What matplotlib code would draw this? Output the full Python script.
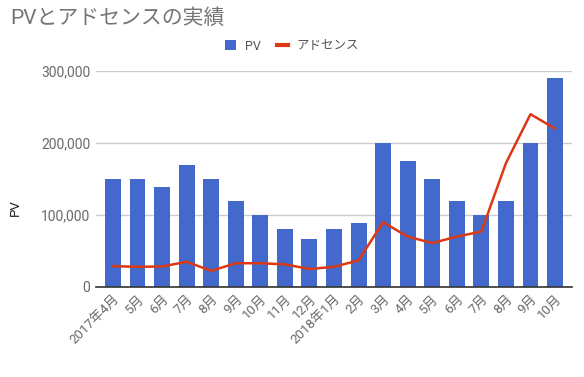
import matplotlib
matplotlib.use("Agg")
import matplotlib.pyplot as plt
from matplotlib.lines import Line2D
from matplotlib.patches import Patch
from matplotlib.ticker import FuncFormatter

plt.rcParams['font.family'] = ['Roboto', 'Noto Sans CJK JP', 'DejaVu Sans']

months = ["2017年4月", "5月", "6月", "7月", "8月", "9月", "10月", "11月", "12月",
          "2018年1月", "2月", "3月", "4月", "5月", "6月", "7月", "8月", "9月", "10月"]
pv = [150000, 150000, 139000, 170000, 150000, 120000, 100000, 80000, 66000,
      80000, 89000, 200000, 175000, 150000, 120000, 100000, 120000, 200000, 290000]
adsense = [29000, 28000, 28500, 35000, 22500, 33000, 33000, 31500, 25000,
           28000, 37000, 90000, 70000, 61000, 70000, 77000, 172000, 240000, 220000]
yticks = [0, 100000, 200000, 300000]

bar_color = "#4269cb"
line_color = "#dc3912"
text_gray = "#757575"

fig = plt.figure(figsize=(5.84, 3.77), dpi=100)
ax = fig.add_axes([96/584, 1-287/377, (572-96)/584, (287-71)/377])

x = list(range(len(months)))
ax.bar(x, pv, width=0.65, color=bar_color, zorder=2)
ax.plot(x, adsense, color=line_color, linewidth=1.8, zorder=3)

ax.set_xlim(-0.69, len(months) - 0.31)
ax.set_ylim(0, 300000)
ax.set_yticks(yticks)
ax.yaxis.set_major_formatter(FuncFormatter(lambda v, p: f"{int(v):,}"))
ax.grid(axis='y', color='#cccccc', linewidth=1, zorder=0)
ax.set_axisbelow(True)
for s in ['top', 'right', 'left']:
    ax.spines[s].set_visible(False)
ax.spines['bottom'].set_color('#333333')
ax.spines['bottom'].set_linewidth(1.2)
ax.spines['bottom'].set_zorder(4)
ax.tick_params(axis='y', length=0, labelsize=10, labelcolor='#6a6a6a', pad=4)
ax.tick_params(axis='x', length=0, labelsize=9.5, labelcolor='#6a6a6a', pad=4)
ax.set_xticks(x)
ax.set_xticklabels(months, rotation=45, ha='right', rotation_mode='anchor')
ax.set_ylabel("PV", fontsize=9.5, color='#222222')
ax.yaxis.set_label_coords(-0.155, 0.37)

fig.text(10/584, 1-18/377, "PVとアドセンスの実績", fontsize=15, color=text_gray,
         ha='left', va='center')

handles = [Patch(facecolor=bar_color, edgecolor='none', label='PV'),
           Line2D([0], [0], color=line_color, linewidth=3, label='アドセンス')]
leg = fig.legend(handles=handles, loc='center', bbox_to_anchor=(292/584, 1-46/377),
                 ncol=2, frameon=False, fontsize=9, handlelength=0.9,
                 handleheight=0.9, columnspacing=1.3, handletextpad=0.7)
for t in leg.get_texts():
    t.set_color('#555555')

fig.savefig("out.png", dpi=100)
